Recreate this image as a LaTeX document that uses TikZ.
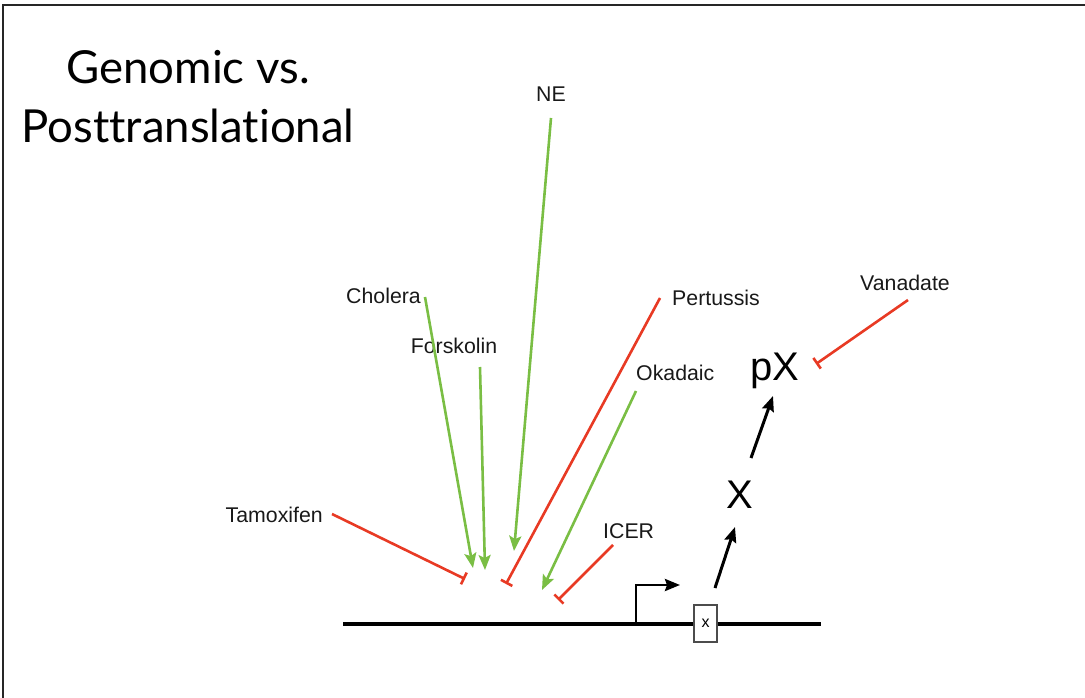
\documentclass[tikz,border=0pt]{standalone}
\usepackage{fontspec}
\setmainfont{Liberation Sans}
\newfontfamily\titlefont[Ligatures=NoCommon]{Lato}
\usetikzlibrary{arrows.meta}
\definecolor{actgreen}{RGB}{122,190,68}
\definecolor{inhred}{RGB}{232,58,36}
\tikzset{
  lbl/.style={font=\fontsize{21.3}{25}\selectfont, text=black!90, inner sep=0pt, anchor=base},
  big/.style={font=\fontsize{40}{48}\selectfont, inner sep=0pt, anchor=base},
  act/.style={draw=actgreen, line width=2.6pt, -{Stealth[length=15pt,width=12pt,inset=3pt]}},
  inh/.style={draw=inhred, line width=2.6pt, -{Bar[width=13pt,line width=2.6pt]}},
  blk/.style={draw=black, line width=3pt, -{Stealth[length=15pt,width=12pt,inset=2pt]}},
}
\begin{document}
\begin{tikzpicture}[x=1pt,y=-1pt]
\useasboundingbox (0,0) rectangle (1085,698);
% frame
\coordinate (fbl) at (3,698);
\coordinate (ftl) at (3,5);
\coordinate (ftr) at (1085,5);
\draw[line width=2.2pt, black!85] (fbl) -- (ftl) -- (ftr);
% title
\node[font=\titlefont\fontsize{45.5}{59}\selectfont, align=center, anchor=base, inner sep=0pt] (title1) at (188,84) {Genomic vs.};
\node[font=\titlefont\fontsize{45.5}{59}\selectfont, align=center, anchor=base, inner sep=0pt] (title2) at (188,143) {Posttranslational};
% labels
\node[lbl] (ne) at (551,102) {NE};
\node[lbl, anchor=base east] (cholera) at (421,303) {Cholera};
\node[lbl] (forskolin) at (454,353) {Forskolin};
\node[lbl, anchor=base west] (pertussis) at (672,305) {Pertussis};
\node[lbl, anchor=base west] (okadaic) at (636,380) {Okadaic};
\node[lbl, anchor=base west] (vanadate) at (860,290) {Vanadate};
\node[lbl, anchor=base east] (tamoxifen) at (323,522) {Tamoxifen};
\node[lbl, anchor=base west] (icer) at (603,538) {ICER};
\node[big] (pX) at (775,380) {pX};
\node[big] (X) at (740,508) {X};
% connector endpoints
\coordinate (neS) at (551,118);   \coordinate (neE) at (514,551);
\coordinate (chS) at (425,297);   \coordinate (chE) at (473,568);
\coordinate (foS) at (480,367);   \coordinate (foE) at (485,570);
\coordinate (okS) at (636,391);   \coordinate (okE) at (542,590);
\coordinate (taS) at (332,514);   \coordinate (taE) at (465,579);
\coordinate (peS) at (660,298);   \coordinate (peE) at (506,584);
\coordinate (icS) at (613,545);   \coordinate (icE) at (558,600);
\coordinate (vaS) at (908,300);   \coordinate (vaE) at (816,364);
% green activators
\draw[act] (neS) -- (neE);
\draw[act] (chS) -- (chE);
\draw[act] (foS) -- (foE);
\draw[act] (okS) -- (okE);
% red inhibitors
\draw[inh] (taS) -- (taE);
\draw[inh] (peS) -- (peE);
\draw[inh] (icS) -- (icE);
\draw[inh] (vaS) -- (vaE);
% DNA
\coordinate (dnaL) at (343,624);
\coordinate (dnaR) at (821,624);
\draw[line width=3.2pt] (dnaL) -- (dnaR);
% promoter arrow
\coordinate (prom) at (636,624);
\coordinate (promT) at (680,585);
\draw[blk, line width=2.8pt] (prom) |- (promT);
% gene box
\node[draw=black!70, line width=1.3pt, fill=white, minimum width=23pt, minimum height=37pt, inner sep=0pt, font=\fontsize{16}{18}\selectfont] (xbox) at (705.5,623.5) {x};
% product arrows
\coordinate (a1S) at (715,588); \coordinate (a1E) at (735,527);
\coordinate (a2S) at (751,458); \coordinate (a2E) at (773,396);
\draw[blk] (a1S) -- (a1E);
\draw[blk] (a2S) -- (a2E);
\end{tikzpicture}
\end{document}
